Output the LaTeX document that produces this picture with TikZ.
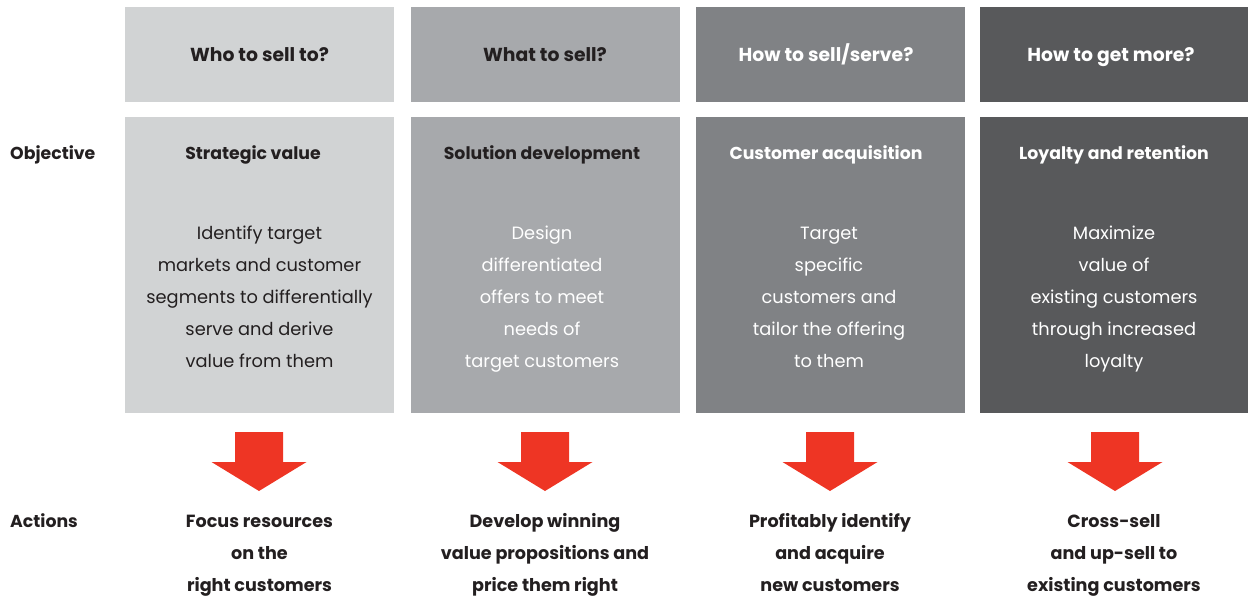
\documentclass[tikz,border=0pt]{standalone}
\usepackage{xcolor}
\usepackage{fontspec}
\setmainfont{Poppins}
\usepackage{tikz}

\definecolor{shadeA}{HTML}{D1D3D4}
\definecolor{shadeB}{HTML}{A7A9AC}
\definecolor{shadeC}{HTML}{808285}
\definecolor{shadeD}{HTML}{58595B}
\definecolor{inkdark}{HTML}{231F20}
\definecolor{arrowred}{HTML}{EE3524}

\begin{document}
\begin{tikzpicture}[x=1pt,y=-1pt,
    headbox/.style={minimum width=269pt,minimum height=95pt,inner sep=0pt},
    bodybox/.style={minimum width=269pt,minimum height=296pt,inner sep=0pt},
    qtext/.style={anchor=base,inner sep=0pt,font=\fontsize{18.8}{20}\selectfont\bfseries},
    headtext/.style={anchor=base,inner sep=0pt,font=\fontsize{17.3}{20}\selectfont\bfseries},
    bodytext/.style={anchor=base,inner sep=0pt,align=center,font=\fontsize{17.8}{32}\selectfont},
    acttext/.style={anchor=base,inner sep=0pt,align=center,text=inkdark,font=\fontsize{17.6}{32}\selectfont\bfseries}]
             \useasboundingbox (0,0) rectangle (1248,600);

             % question row
             \node[headbox,fill=shadeA] (who) at (259.5,54.5) {};
             \node[headbox,fill=shadeB] (what) at (545,54.5) {};
             \node[headbox,fill=shadeC] (how) at (830,54.5) {};
             \node[headbox,fill=shadeD] (more) at (1114,54.5) {};
             \node[qtext,text=inkdark] (whotext) at (259.5,61) {Who to sell to?};
             \node[qtext,text=inkdark] (whattext) at (545,61) {What to sell?};
             \node[qtext,text=white] (howtext) at (826,61) {How to sell/serve?};
             \node[qtext,text=white] (moretext) at (1111,61) {How to get more?};

             % objective row
             \node[headtext,text=inkdark,anchor=base west] (objective) at (10,159) {Objective};
             \node[bodybox,fill=shadeA] (strategic) at (259.5,265) {};
             \node[bodybox,fill=shadeB] (solution) at (545,265) {};
             \node[bodybox,fill=shadeC] (acquisition) at (830,265) {};
             \node[bodybox,fill=shadeD] (loyalty) at (1114,265) {};

             \node[headtext,text=inkdark] (strategictitle) at (253,159) {Strategic value};
             \node[headtext,text=inkdark] (solutiontitle) at (542,159) {Solution development};
             \node[headtext,text=white] (acquisitiontitle) at (826,159) {Customer acquisition};
             \node[headtext,text=white] (loyaltytitle) at (1114,159) {Loyalty and retention};

             % last line sits on the given baseline
             \node[bodytext,text=inkdark] (strategictext) at (259.5,367) {Identify target\\markets and customer\\segments to differentially\\serve and derive\\value from them};
             \node[bodytext,text=white] (solutiontext) at (542,367) {Design\\differentiated\\offers to meet\\needs of\\target customers};
             \node[bodytext,text=white] (acquisitiontext) at (829,367) {Target\\specific\\customers and\\tailor the offering\\to them};
             \node[bodytext,text=white] (loyaltytext) at (1114,367) {Maximize\\value of\\existing customers\\through increased\\loyalty};

             % red arrows
             \foreach \cx in {259,545,830,1115}
                \fill[arrowred] (\cx-24,432) -- (\cx+24,432) -- (\cx+24,462) -- (\cx+47.5,462)
                   -- (\cx,491) -- (\cx-47.5,462) -- (\cx-24,462) -- cycle;

             % action row
             \node[headtext,text=inkdark,anchor=base west] (actions) at (10,527) {Actions};
             \node[acttext] (focus) at (259.5,591) {Focus resources\\on the\\right customers};
             \node[acttext] (develop) at (545,591) {Develop winning\\value propositions and\\price them right};
             \node[acttext] (identify) at (830,591) {Profitably identify\\and acquire\\new customers};
             \node[acttext] (crosssell) at (1114,591) {Cross-sell\\and up-sell to\\existing customers};
             \end{tikzpicture}
\end{document}
